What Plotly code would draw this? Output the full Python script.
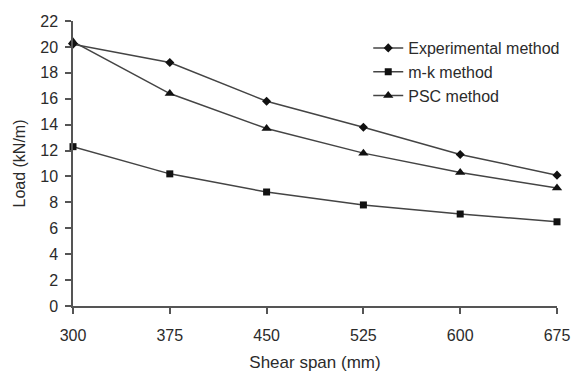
import plotly.graph_objects as go

shear_span = [300, 375, 450, 525, 600, 675]
experimental = [20.2, 18.8, 15.8, 13.8, 11.7, 10.1]
mk_method = [12.3, 10.2, 8.8, 7.8, 7.1, 6.5]
psc_method = [20.4, 16.4, 13.7, 11.8, 10.3, 9.1]
y_ticks = [0, 2, 4, 6, 8, 10, 12, 14, 16, 18, 20, 22]

FONT = "Liberation Sans, Arial, sans-serif"
TXT = "#2b2b2b"
LINE = "#444444"

fig = go.Figure()
series = [
    ("Experimental method", experimental, "diamond", 7),
    ("m-k method", mk_method, "square", 7),
    ("PSC method", psc_method, "triangle-up", 9),
]
for name, vals, sym, size in series:
    fig.add_trace(go.Scatter(
        x=shear_span, y=vals, name=name, mode="lines+markers",
        line=dict(color=LINE, width=1.5),
        marker=dict(symbol=sym, size=size, color="#111111"),
        cliponaxis=False,
    ))

fig.update_layout(
    width=573, height=372,
    margin=dict(l=73, r=16, t=21, b=66, autoexpand=False),
    paper_bgcolor="white", plot_bgcolor="white",
    font=dict(family=FONT, size=16, color=TXT),
    showlegend=True,
    legend=dict(x=0.61, y=0.965, xanchor="left", yanchor="top",
                bgcolor="rgba(0,0,0,0)", font=dict(size=16, color=TXT),
                itemwidth=30, tracegroupgap=0),
)
fig.update_xaxes(
    range=[300, 675], tickvals=shear_span, ticktext=[str(v) for v in shear_span],
    showgrid=False, zeroline=False, showline=True, linecolor="#555555", linewidth=1.5,
    ticks="outside", ticklen=6, tickcolor="#555555", tickwidth=1.5,
    ticklabelstandoff=8, automargin=False,
    title=dict(text="Shear span (mm)", standoff=14, font=dict(size=17, color=TXT)),
)
fig.update_yaxes(
    range=[0, 22], tickvals=y_ticks,
    showgrid=False, zeroline=False, showline=True, linecolor="#555555", linewidth=1.5,
    ticks="outside", ticklen=6, tickcolor="#555555", tickwidth=1.5,
    ticklabelstandoff=4, automargin=False,
    title=dict(text="Load (kN/m)", standoff=11, font=dict(size=16, color=TXT)),
)
fig.write_html(
    "out.html",
    config={"displayModeBar": False},
    post_script="document.body.style.margin='0';document.body.style.padding='0';document.body.style.overflow='hidden';",
)
